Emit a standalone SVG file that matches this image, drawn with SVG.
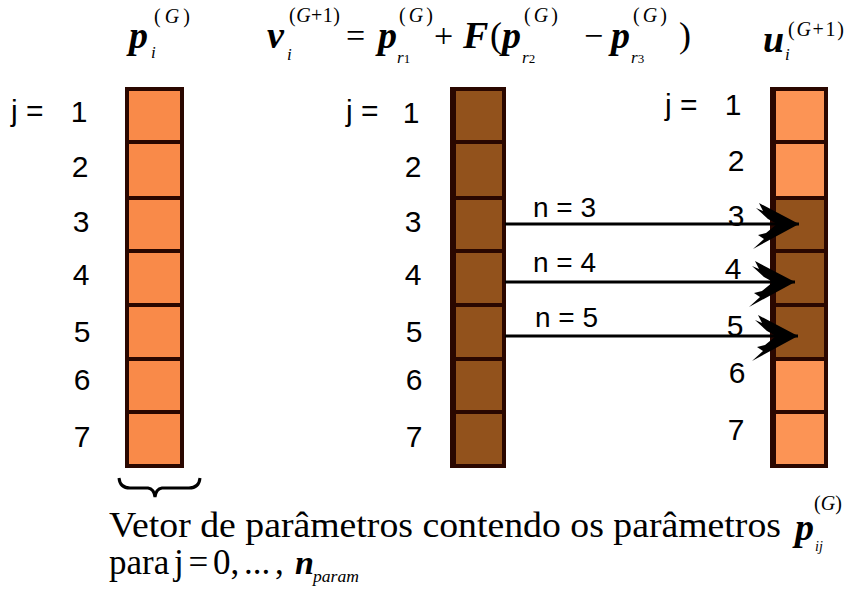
<svg xmlns="http://www.w3.org/2000/svg" width="846" height="591" viewBox="0 0 846 591">
<style>
.lbl{font-family:"Liberation Sans",Arial,sans-serif;font-size:30px;fill:#000}
.n{font-family:"Liberation Sans",Arial,sans-serif;font-size:28px;fill:#000}
.m{font-family:"Liberation Serif","Times New Roman",serif;fill:#000}
.bi{font-weight:bold;font-style:italic;font-size:38px}
.sup{font-size:20px}
.sub{font-size:17px;font-style:italic}
.or{fill:#f98a49}
.or2{fill:#fc9455}
.br{fill:#92521c}
.frame{fill:none;stroke:#2a0700;stroke-width:4}
.div{stroke:#2a0700;stroke-width:4}
.conn{stroke:#000;stroke-width:3;fill:none}
</style>
<defs>
<marker id="ah" markerUnits="userSpaceOnUse" viewBox="-50 -28 52 56" refX="0" refY="0" markerWidth="52" markerHeight="56" orient="auto">
<path d="M0,0 L-40,-21 L-36,-13 L-43,-16 L-31,-5 L-22,0 L-33,9 L-41,11 L-35,15 L-46,25 Z" fill="#000"/>
</marker>
</defs>

<g id="header">
<text class="m bi" x="129" y="48">p</text>
<text class="m sub" x="151" y="58">i</text>
<text class="m sup" x="154" y="23" textLength="36" lengthAdjust="spacing">(<tspan font-style="italic">G</tspan>)</text>

<text class="m bi" x="267" y="48">v</text>
<text class="m sub" x="287" y="60">i</text>
<text class="m sup" x="289" y="22" textLength="51" lengthAdjust="spacing">(<tspan font-style="italic">G</tspan>+1)</text>
<text class="m" font-size="34" x="346" y="47">=</text>
<text class="m bi" x="378" y="48">p</text>
<text class="m" x="397" y="63"><tspan font-size="17" font-style="italic">r</tspan><tspan font-size="13">1</tspan></text>
<text class="m sup" x="399" y="22" textLength="34" lengthAdjust="spacing">(<tspan font-style="italic">G</tspan>)</text>
<text class="m" font-size="34" x="434" y="47">+</text>
<text class="m bi" x="463" y="48">F</text>
<text class="m" font-size="36" x="490" y="47">(</text>
<text class="m bi" x="502" y="48">p</text>
<text class="m" x="522" y="63"><tspan font-size="17" font-style="italic">r</tspan><tspan font-size="13">2</tspan></text>
<text class="m sup" x="524" y="22" textLength="34" lengthAdjust="spacing">(<tspan font-style="italic">G</tspan>)</text>
<text class="m" font-size="34" x="584" y="47">−</text>
<text class="m bi" x="611" y="48">p</text>
<text class="m" x="631" y="63"><tspan font-size="17" font-style="italic">r</tspan><tspan font-size="13">3</tspan></text>
<text class="m sup" x="633" y="22" textLength="34" lengthAdjust="spacing">(<tspan font-style="italic">G</tspan>)</text>
<text class="m" font-size="36" x="679" y="47">)</text>

<text class="m bi" x="763" y="52">u</text>
<text class="m sub" x="785" y="60">i</text>
<text class="m sup" x="788" y="36" textLength="56" lengthAdjust="spacing">(<tspan font-style="italic">G</tspan>+1)</text>
</g>

<g id="col-p">
<rect class="or" x="127" y="89" width="55" height="377"/>
<line class="div" x1="127" y1="142" x2="182" y2="142"/>
<line class="div" x1="127" y1="198" x2="182" y2="198"/>
<line class="div" x1="127" y1="251" x2="182" y2="251"/>
<line class="div" x1="127" y1="305" x2="182" y2="305"/>
<line class="div" x1="127" y1="359" x2="182" y2="359"/>
<line class="div" x1="127" y1="412" x2="182" y2="412"/>
<rect class="frame" x="127" y="89" width="55" height="377"/>
</g>

<g id="col-v">
<rect class="br" x="452" y="89" width="52" height="377"/>
<line class="div" x1="452" y1="142" x2="504" y2="142"/>
<line class="div" x1="452" y1="198" x2="504" y2="198"/>
<line class="div" x1="452" y1="251" x2="504" y2="251"/>
<line class="div" x1="452" y1="305" x2="504" y2="305"/>
<line class="div" x1="452" y1="359" x2="504" y2="359"/>
<line class="div" x1="452" y1="412" x2="504" y2="412"/>
<rect class="frame" x="452" y="89" width="52" height="377"/>
<line class="div" x1="454" y1="89" x2="454" y2="466"/>
</g>

<g id="col-u">
<rect class="or2" x="772" y="89" width="54" height="109"/>
<rect class="br" x="772" y="198" width="54" height="161"/>
<rect class="or2" x="772" y="359" width="54" height="107"/>
<line class="div" x1="772" y1="142" x2="826" y2="142"/>
<line class="div" x1="772" y1="198" x2="826" y2="198"/>
<line class="div" x1="772" y1="251" x2="826" y2="251"/>
<line class="div" x1="772" y1="305" x2="826" y2="305"/>
<line class="div" x1="772" y1="359" x2="826" y2="359"/>
<line class="div" x1="772" y1="412" x2="826" y2="412"/>
<rect class="frame" x="772" y="89" width="54" height="377"/>
<line class="div" x1="774" y1="89" x2="774" y2="466"/>
</g>

<g id="labels-left" class="lbl">
<text x="11" y="121">j =</text>
<g text-anchor="middle">
<text x="79" y="122">1</text>
<text x="80" y="177">2</text>
<text x="81" y="232">3</text>
<text x="81" y="285">4</text>
<text x="82" y="342">5</text>
<text x="82" y="390">6</text>
<text x="82" y="447">7</text>
</g>
</g>

<g id="labels-mid" class="lbl">
<text x="346" y="121">j =</text>
<g text-anchor="middle">
<text x="411" y="123">1</text>
<text x="413" y="177">2</text>
<text x="413" y="232">3</text>
<text x="413" y="285">4</text>
<text x="414" y="342">5</text>
<text x="414" y="390">6</text>
<text x="414" y="447">7</text>
</g>
</g>

<g id="labels-right" class="lbl">
<text x="665" y="115">j =</text>
<g text-anchor="middle">
<text x="733" y="115">1</text>
<text x="736" y="171">2</text>
<text x="736" y="226">3</text>
<text x="733" y="279">4</text>
<text x="735" y="336">5</text>
<text x="737" y="383">6</text>
<text x="736" y="440">7</text>
</g>
</g>

<g id="connectors">
<line class="conn" x1="505" y1="224" x2="799" y2="224" marker-end="url(#ah)"/>
<line class="conn" x1="505" y1="282" x2="795" y2="282" marker-end="url(#ah)"/>
<line class="conn" x1="505" y1="336" x2="798" y2="336" marker-end="url(#ah)"/>
<text class="n" x="533" y="217">n = 3</text>
<text class="n" x="533" y="272">n = 4</text>
<text class="n" x="535" y="327">n = 5</text>
</g>

<g id="brace">
<path d="M119,478 Q120,488 130,488 L148,488 Q154,489 155,497 Q156,489 162,488 L189,488 Q199,488 200,478" fill="none" stroke="#000" stroke-width="3"/>
</g>

<g id="caption">
<text class="m" font-size="36" x="109" y="537" textLength="672" lengthAdjust="spacingAndGlyphs">Vetor de parâmetros contendo os parâmetros</text>
<text class="m" font-weight="bold" font-style="italic" font-size="38" x="795" y="540">p</text>
<text class="m" font-style="italic" font-size="14" x="815" y="551">ij</text>
<text class="m sup" x="814" y="510" textLength="28" lengthAdjust="spacing">(<tspan font-style="italic">G</tspan>)</text>
<text class="m" font-size="35" x="109" y="574" word-spacing="-4">para j = 0, ... ,</text>
<text class="m" font-weight="bold" font-style="italic" font-size="34" x="295" y="574">n</text>
<text class="m" font-style="italic" font-size="17" x="313" y="582" textLength="46" lengthAdjust="spacingAndGlyphs">param</text>
</g>
</svg>
